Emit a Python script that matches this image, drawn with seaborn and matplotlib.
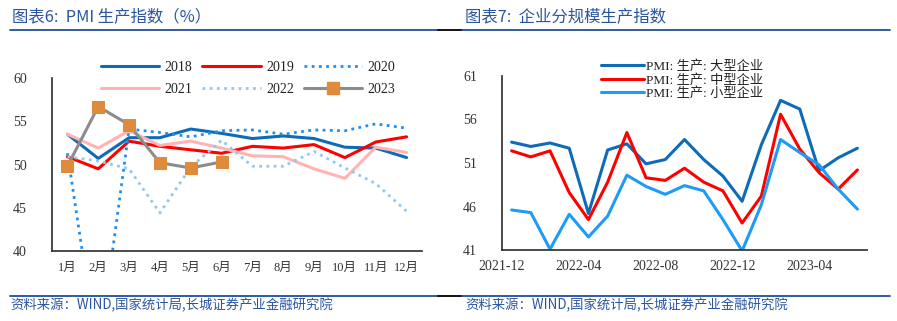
import matplotlib
matplotlib.use("Agg")
import matplotlib.pyplot as plt
import seaborn as sns
import pandas as pd
import numpy as np
from matplotlib.lines import Line2D

sns.set_theme(style="white")
plt.rcParams['font.family'] = ['Liberation Serif', 'Noto Sans CJK SC', 'DejaVu Sans']
plt.rcParams['axes.unicode_minus'] = False

# ---------------- data: left chart ----------------
months = ["1月", "2月", "3月", "4月", "5月", "6月", "7月", "8月", "9月", "10月", "11月", "12月"]
y2018 = [53.5, 50.7, 53.1, 53.1, 54.1, 53.6, 53.0, 53.3, 53.0, 52.0, 51.9, 50.8]
y2019 = [50.9, 49.5, 52.7, 52.1, 51.7, 51.3, 52.1, 51.9, 52.3, 50.8, 52.6, 53.2]
y2020 = [51.3, 27.8, 54.1, 53.7, 53.2, 53.9, 54.0, 53.5, 54.0, 53.9, 54.7, 54.2]
y2021 = [53.5, 51.9, 53.9, 52.2, 52.7, 51.9, 51.0, 50.9, 49.5, 48.4, 52.0, 51.4]
y2022 = [50.9, 50.4, 49.5, 44.4, 49.7, 52.8, 49.8, 49.8, 51.5, 49.6, 47.8, 44.6]
y2023 = [49.8, 56.7, 54.6, 50.2, 49.6, 50.3]

# ---------------- data: right chart ----------------
dates = ["2021-12", "2022-01", "2022-02", "2022-03", "2022-04", "2022-05", "2022-06",
         "2022-07", "2022-08", "2022-09", "2022-10", "2022-11", "2022-12",
         "2023-01", "2023-02", "2023-03", "2023-04", "2023-05", "2023-06"]
large = [53.4, 52.9, 53.3, 52.7, 45.2, 52.5, 53.2, 50.9, 51.4, 53.7, 51.4, 49.5, 46.6,
         53.1, 58.2, 57.2, 50.1, 51.6, 52.7]
medium = [52.4, 51.7, 52.4, 47.6, 44.5, 48.8, 54.5, 49.3, 49.0, 50.4, 48.8, 47.8, 44.1,
          47.2, 56.6, 52.6, 49.9, 48.0, 50.2]
small = [45.6, 45.3, 41.1, 45.1, 42.5, 44.9, 49.6, 48.3, 47.4, 48.4, 47.8, 44.5, 40.9,
         46.2, 53.7, 52.2, 50.8, 48.0, 45.7]
right_tick_labels = ["2021-12", "2022-04", "2022-08", "2022-12", "2023-04"]

fig = plt.figure(figsize=(8.97, 3.21), dpi=100)

BLUE_T = "#2A55A0"
cjk = ['Noto Sans CJK SC', 'DejaVu Sans']
serif_cjk = ['Liberation Serif', 'Noto Sans CJK SC']

# header / footer
fig.text(12/897, 1-17/321, "图表6:  PMI 生产指数（%）", fontsize=11.8, color=BLUE_T,
         family=cjk, va='center', ha='left', style='italic')
fig.text(465/897, 1-17/321, "图表7:  企业分规模生产指数", fontsize=11.8, color=BLUE_T,
         family=cjk, va='center', ha='left', style='italic')
for (x0, x1, c) in [(10, 438, "#1F4E9C"), (438, 462, "black"), (462, 890, "#1F4E9C")]:
    fig.add_artist(Line2D([x0/897, x1/897], [1-30/321, 1-30/321], color=c, lw=1.3))
    fig.add_artist(Line2D([x0/897, x1/897], [1-296/321, 1-296/321], color=c, lw=1.3))
fig.text(10/897, 1-305/321, "资料来源：WIND,国家统计局,长城证券产业金融研究院", fontsize=9.6,
         color=BLUE_T, family=cjk, va='center', ha='left', style='italic')
fig.text(465/897, 1-305/321, "资料来源：WIND,国家统计局,长城证券产业金融研究院", fontsize=9.6,
         color=BLUE_T, family=cjk, va='center', ha='left', style='italic')

# ---------------- left axes ----------------
ax1 = fig.add_axes([52/897, 1-251/321, 370/897, 173/321])
xi = np.arange(len(months))
series = [
    ("2018", y2018, dict(color="#0E6BB8", lw=2.2, ls="-")),
    ("2019", y2019, dict(color="#FF0000", lw=2.2, ls="-")),
    ("2020", y2020, dict(color="#1E90F0", lw=2.0, ls=(0, (1, 1.6)))),
    ("2021", y2021, dict(color="#FFB3B3", lw=2.2, ls="-")),
    ("2022", y2022, dict(color="#8EC9F2", lw=2.0, ls=(0, (1, 1.6)))),
]
handles = {}
for name, vals, st in series:
    sns.lineplot(x=xi[:len(vals)], y=vals, ax=ax1, color=st["color"], lw=st["lw"],
                 linestyle=st["ls"], legend=False)
    handles[name] = Line2D([], [], color=st["color"], lw=st["lw"], ls=st["ls"], label=name)
sns.lineplot(x=xi[:len(y2023)], y=y2023, ax=ax1, color="#8C8C8C", lw=2.2, marker="s",
             markersize=8, markerfacecolor="#E08A3C", markeredgecolor="#E08A3C", legend=False)
handles["2023"] = Line2D([], [], color="#8C8C8C", lw=2.2, marker="s", markersize=8,
                         markerfacecolor="#E08A3C", markeredgecolor="#E08A3C", label="2023")
order = ["2018", "2021", "2019", "2022", "2020", "2023"]

ax1.set_xlim(-0.5, 11.5)
ax1.set_ylim(40, 60)
ax1.set_yticks([40, 45, 50, 55, 60])
ax1.set_xticks(np.arange(-0.5, 12, 1))
ax1.set_xticklabels([])
ax1.set_xticks(xi, minor=True)
ax1.set_xticklabels(months, minor=True, family=serif_cjk)
ax1.tick_params(axis='x', which='minor', length=0, pad=8, labelsize=9, colors="#333333")
ax1.tick_params(axis='x', which='major', length=4, width=1, color="#333333", direction='out')
ax1.tick_params(axis='y', length=4, width=1, direction='out', labelsize=10, colors="#333333",
                pad=14)
ax1.spines['top'].set_visible(False)
ax1.spines['right'].set_visible(False)
ax1.spines['left'].set_color("#333333")
ax1.spines['bottom'].set_color("#333333")
ax1.set_xlabel("")
ax1.set_ylabel("")
leg = ax1.legend(handles=[handles[k] for k in order], ncol=3, loc='upper center',
                 bbox_to_anchor=(0.53, 1.17), frameon=False, fontsize=10, handlelength=4.2,
                 columnspacing=0.7, handletextpad=0.4, labelspacing=0.65)
for t in leg.get_texts():
    t.set_color("#222222")

# ---------------- right axes ----------------
ax2 = fig.add_axes([502/897, 1-250/321, 365/897, 174/321])
xr = np.arange(len(dates))
rseries = [
    ("PMI: 生产: 大型企业", large, "#0E6BB8"),
    ("PMI: 生产: 中型企业", medium, "#FF0000"),
    ("PMI: 生产: 小型企业", small, "#1E9BF5"),
]
for name, vals, c in rseries:
    sns.lineplot(x=xr, y=vals, ax=ax2, color=c, lw=2.2, label=name)
ax2.set_xlim(-0.5, 18.5)
ax2.set_ylim(41, 61)
ax2.set_yticks([41, 46, 51, 56, 61])
ax2.set_xticks([-0.5, 3.5, 7.5, 11.5, 15.5])
ax2.set_xticklabels(right_tick_labels)
ax2.tick_params(axis='x', length=4, width=1, direction='out', labelsize=10, colors="#333333",
                pad=3)
ax2.tick_params(axis='y', length=4, width=1, direction='out', labelsize=10, colors="#333333",
                pad=14)
ax2.spines['top'].set_visible(False)
ax2.spines['right'].set_visible(False)
ax2.spines['left'].set_color("#333333")
ax2.spines['bottom'].set_color("#333333")
ax2.set_xlabel("")
ax2.set_ylabel("")
leg2 = ax2.legend(loc='upper left', bbox_to_anchor=(0.24, 1.16), frameon=False,
                  handlelength=3.2, handletextpad=0.2, labelspacing=0.05,
                  prop={'family': serif_cjk, 'size': 9.5})
for t in leg2.get_texts():
    t.set_color("#222222")

fig.savefig("out.png", dpi=100)
